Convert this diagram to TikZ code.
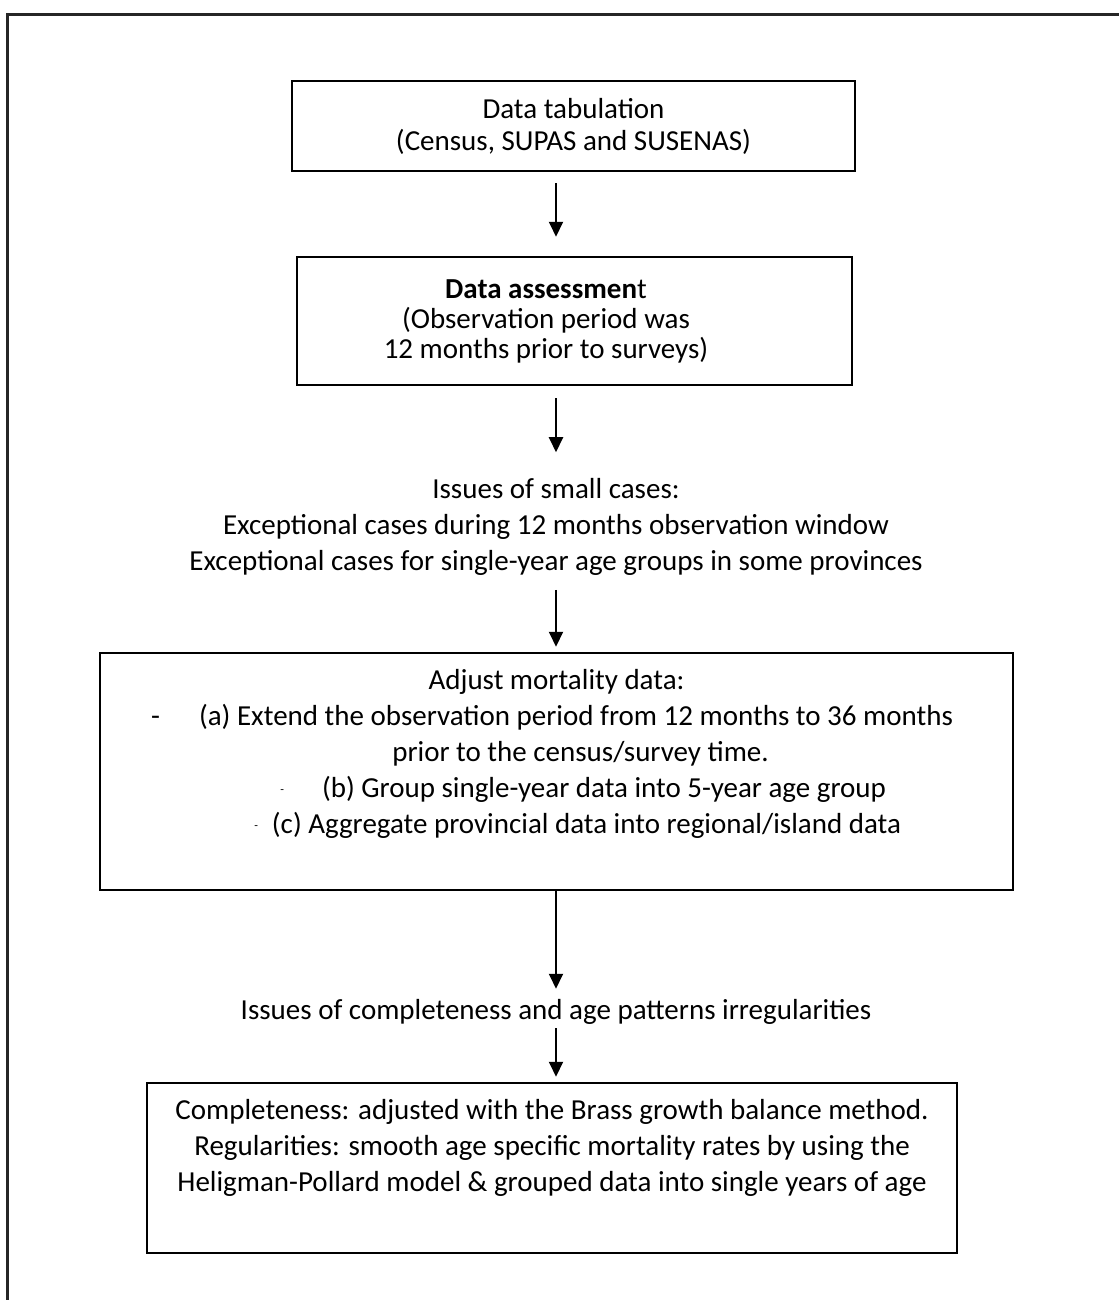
\documentclass[tikz,border=0pt]{standalone}
\usepackage{fontspec}
\setmainfont{Carlito}
\usetikzlibrary{arrows.meta}
\usetikzlibrary{positioning}

\begin{document}
\begin{tikzpicture}[x=1pt,y=-1pt,>={Triangle[width=14pt,length=15pt]},
			font=\fontsize{29}{36}\selectfont]
			\tikzstyle{block}=[draw,line width=2.5pt,align=center,inner sep=0pt]
			\tikzstyle{plain}=[align=flush center,inner sep=0pt]
			\tikzstyle{flow}=[->,line width=2pt]
			
			\useasboundingbox (0,0) rectangle (1119,1300);
			\draw[line width=2.5pt,black!85] (7.5,1300) |- (1119,14.5);
			
			\node[block,minimum width=563pt,minimum height=90pt,font=\fontsize{29}{32}\selectfont] (tab) at (573.5,126) {Data tabulation\\(Census, SUPAS and SUSENAS)};
			\node[block,minimum width=555pt,minimum height=128pt] (assess) at (574.5,321) {};
			\node[plain,font=\fontsize{29}{30}\selectfont] (asstext) at (546,321) {\textbf{Data assessmen}t\\(Observation period was\\12 months prior to surveys)};
			\node[plain] (small) at (556,527) {Issues of small cases:\\Exceptional cases during 12 months observation window\\Exceptional cases for single-year age groups in some provinces};
			\node[block,minimum width=913pt,minimum height=237pt] (adjust) at (556.5,771.5) {};
			\node[plain,text width=913pt,below=17pt of adjust.north] (adjtext) {Adjust mortality data:\\
				\hspace*{39pt}\makebox[0pt][r]{-\hspace{39pt}}(a) Extend the observation period from 12 months to 36 months\\
				\hspace*{48pt}prior to the census/survey time.\\
				\hspace*{95pt}\makebox[0pt][r]{\raisebox{4pt}{\fontsize{12}{12}\selectfont -}\hspace{38pt}}(b) Group single-year data into 5-year age group\\
				\hspace*{60pt}\makebox[0pt][r]{\raisebox{4pt}{\fontsize{12}{12}\selectfont -}\hspace{14pt}}(c) Aggregate provincial data into regional/island data};
			\node[plain] (complete) at (556,1011.5) {Issues of completeness and age patterns irregularities};
			\node[block,minimum width=810pt,minimum height=170pt] (result) at (552,1168) {};
			\node[plain,text width=810pt,below=17pt of result.north] (restext) {Completeness: adjusted with the Brass growth balance method.\\
				Regularities: smooth age specific mortality rates by using the\\
				Heligman-Pollard model \& grouped data into single years of age};
			
			\path[flow] (tab.south -| small) edge [shorten <=11pt,shorten >=19pt] (assess.north -| small)
			(assess.south -| small) edge [shorten <=12pt,shorten >=26pt] (small.north)
			(small.south) edge [shorten <=14pt,shorten >=5pt] (adjust.north -| small)
			(adjust.south -| small) edge [shorten >=10pt] (complete.north)
			(complete.south) edge [shorten <=4pt,shorten >=5pt] (result.north -| small);
			
\end{tikzpicture}
\end{document}
